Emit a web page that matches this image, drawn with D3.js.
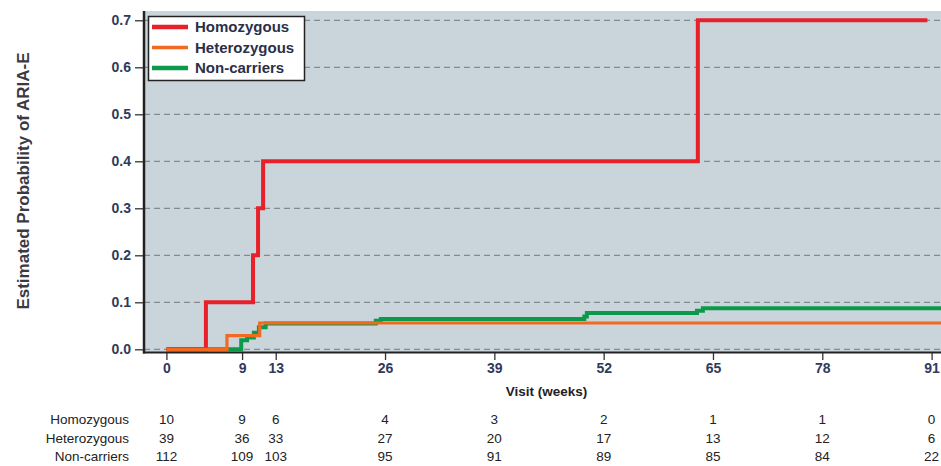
<!DOCTYPE html>
<html><head><meta charset="utf-8">
<script src="https://cdn.jsdelivr.net/npm/d3@7"></script>
<style>body{margin:0;background:#fff}svg{display:block;font-family:"Liberation Sans",Arial,sans-serif}</style>
</head><body><svg id="c" width="941" height="466"></svg>
<script>
const groups = ["Homozygous","Heterozygous","Non-carriers"];
const groupColors = ["#e8202a","#f26a22","#0b9a4a"];
const xTicks = [0,9,13,26,39,52,65,78,91];
const yTicks = [0,0.1,0.2,0.3,0.4,0.5,0.6,0.7];
const homoTimes = [0,4.7,10.3,10.9,11.5,63.2,90.5];
const homoProb  = [0,0.1,0.2,0.3,0.4,0.7,0.7];
const hetTimes  = [0,7.2,11.1,93];
const hetProb   = [0,0.029,0.056,0.056];
const nonTimes  = [0,8.9,9.6,10.4,11.0,11.8,24.9,25.5,49.7,50.0,63.1,63.8,93];
const nonProb   = [0,0.019,0.025,0.035,0.047,0.055,0.061,0.0646,0.070,0.077,0.082,0.0875,0.0875];
const riskHomo = [10,9,6,4,3,2,1,1,0];
const riskHet  = [39,36,33,27,20,17,13,12,6];
const riskNon  = [112,109,103,95,91,89,85,84,22];

const svg = d3.select("#c");
const x = d3.scaleLinear().domain([0,91]).range([166.4,931.6]);
const y = d3.scaleLinear().domain([0,0.7]).range([349.3,20.3]);
const panel = {l:144, r:941, t:11, b:352};

svg.append("rect").attr("x",panel.l).attr("y",panel.t).attr("width",panel.r-panel.l).attr("height",panel.b-panel.t).attr("fill","#c9d4db");

svg.append("g").selectAll("line").data(yTicks).join("line")
  .attr("x1",panel.l).attr("x2",panel.r).attr("y1",d=>y(d)).attr("y2",d=>y(d))
  .attr("stroke","#858a8e").attr("stroke-width",1.3).attr("stroke-dasharray","6,4");

svg.append("defs").append("clipPath").attr("id","clip").append("rect")
  .attr("x",panel.l).attr("y",panel.t).attr("width",panel.r-panel.l).attr("height",panel.b-panel.t);

const line = d3.line().x(d=>x(d[0])).y(d=>y(d[1])).curve(d3.curveStepAfter);
const series = [
  {times:nonTimes, prob:nonProb, color:groupColors[2], w:4},
  {times:homoTimes, prob:homoProb, color:groupColors[0], w:4},
  {times:hetTimes, prob:hetProb, color:groupColors[1], w:3.2}
];
const gl = svg.append("g").attr("clip-path","url(#clip)");
series.forEach(s=>{
  gl.append("path").datum(s.times.map((t,i)=>[t,s.prob[i]]))
    .attr("d",line).attr("fill","none").attr("stroke",s.color).attr("stroke-width",s.w);
});

const yAxis = d3.axisLeft(y).tickValues(yTicks).tickFormat(d3.format(".1f")).tickSize(9).tickPadding(4);
const gy = svg.append("g").attr("transform",`translate(${panel.l},0)`).call(yAxis);
gy.select(".domain").remove();
const xAxis = d3.axisBottom(x).tickValues(xTicks).tickSize(8).tickPadding(3);
const gx = svg.append("g").attr("transform",`translate(0,${panel.b})`).call(xAxis);
gx.select(".domain").remove();
[gy,gx].forEach(g=>{
  g.attr("font-size",14).attr("font-family","'Liberation Sans',Arial,sans-serif");
  g.selectAll("line").attr("stroke","#333").attr("stroke-width",1.3);
  g.selectAll("text").attr("font-size",14).attr("font-weight","bold").attr("fill","#2f3b5c");
});
svg.append("line").attr("x1",panel.l).attr("x2",panel.l).attr("y1",panel.t).attr("y2",panel.b+1.5)
  .attr("stroke","#222").attr("stroke-width",2.5);
svg.append("line").attr("x1",panel.l-1).attr("x2",panel.r).attr("y1",panel.b+0.5).attr("y2",panel.b+0.5)
  .attr("stroke","#222").attr("stroke-width",2);

svg.append("text").attr("transform","translate(29,181) rotate(-90)").attr("text-anchor","middle")
  .attr("font-size",17).attr("font-weight","bold").attr("fill","#3a3a44").text("Estimated Probability of ARIA-E");
svg.append("text").attr("x",546.5).attr("y",396).attr("text-anchor","middle")
  .attr("font-size",13.5).attr("font-weight","bold").attr("fill","#222").text("Visit (weeks)");

const lg = svg.append("g");
lg.append("rect").attr("x",148.5).attr("y",16.5).attr("width",156).attr("height",64)
  .attr("fill","#fff").attr("stroke","#222").attr("stroke-width",1.5);
groups.forEach((g,i)=>{
  const cy = 27 + i*20.5;
  lg.append("line").attr("x1",152).attr("x2",188).attr("y1",cy).attr("y2",cy)
    .attr("stroke",groupColors[i]).attr("stroke-width",i===1?3.5:4.5);
  lg.append("text").attr("x",195).attr("y",cy+5.2).attr("font-size",15).attr("font-weight","bold")
    .attr("fill","#2a2f4a").text(g);
});

const risks = [riskHomo, riskHet, riskNon];
const rowY = [423.5, 442.5, 461];
groups.forEach((g,i)=>{
  svg.append("text").attr("x",129).attr("y",rowY[i]).attr("text-anchor","end")
    .attr("font-size",13.5).attr("fill","#222").text(g);
  svg.append("g").selectAll("text").data(risks[i]).join("text")
    .attr("x",(d,j)=>x(xTicks[j])).attr("y",rowY[i]).attr("text-anchor","middle")
    .attr("font-size",13.5).attr("fill","#222").text(d=>d);
});
</script></body></html>
